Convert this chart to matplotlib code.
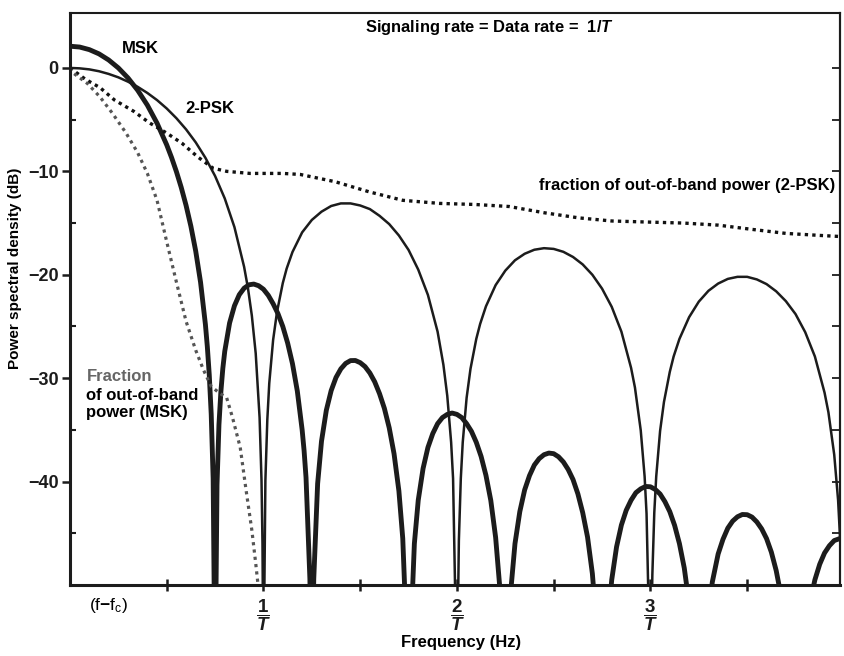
import numpy as np
import matplotlib
matplotlib.use('Agg')
import matplotlib.pyplot as plt

# values (frequency in units of 1/T, level in dB)
# -60 marks a spectral null (falls below the plotted range)
psk_f = [0, 0.05, 0.1, 0.15, 0.2, 0.25, 0.3, 0.35, 0.4, 0.45, 0.5, 0.55, 0.6, 0.65, 0.7, 0.75,
         0.8, 0.85, 0.9, 0.92, 0.94, 0.96, 0.98, 0.99, 0.995, 1.0,
         1.01, 1.02, 1.03, 1.05, 1.07, 1.1, 1.12, 1.15, 1.2, 1.25, 1.3, 1.35, 1.4, 1.45, 1.5,
         1.55, 1.6, 1.65, 1.7, 1.75, 1.8, 1.85, 1.9, 1.93, 1.95, 1.97, 1.98, 2.0,
         2.01, 2.02, 2.03, 2.05, 2.07, 2.1, 2.12, 2.15, 2.2, 2.25, 2.3, 2.35, 2.4, 2.45, 2.5,
         2.55, 2.6, 2.65, 2.7, 2.75, 2.8, 2.85, 2.9, 2.92, 2.95, 2.97, 2.98, 3.0,
         3.01, 3.02, 3.03, 3.05, 3.07, 3.1, 3.12, 3.15, 3.2, 3.25, 3.3, 3.35, 3.4, 3.45, 3.5,
         3.55, 3.6, 3.65, 3.7, 3.75, 3.8, 3.85, 3.9, 3.92, 3.95, 3.97, 3.98]
psk_db = [0, -0.04, -0.14, -0.32, -0.58, -0.91, -1.33, -1.83, -2.42, -3.11, -3.92, -4.86, -5.94, -7.2, -8.69, -10.45,
          -12.62, -15.39, -19.23, -21.3, -23.95, -27.6, -33.8, -39.9, -46.0, -60,
          -39.9, -34.0, -30.5, -26.3, -23.6, -20.8, -19.4, -17.8, -15.9, -14.7, -13.9, -13.35, -13.1, -13.1, -13.3,
          -13.65, -14.3, -15.1, -16.2, -17.6, -19.5, -21.95, -25.5, -28.7, -31.7, -36.2, -39.7, -60,
          -45.7, -39.7, -36.2, -31.9, -29.1, -26.2, -24.75, -23.05, -21.0, -19.6, -18.6, -17.97, -17.58, -17.43, -17.5,
          -17.78, -18.28, -19.0, -20.0, -21.34, -23.1, -25.5, -29.0, -30.9, -35.05, -39.5, -43.1, -60,
          -49.0, -43.0, -39.5, -35.1, -32.3, -29.4, -27.9, -26.2, -24.1, -22.6, -21.55, -20.85, -20.4, -20.2, -20.2,
          -20.45, -20.9, -21.6, -22.55, -23.8, -25.55, -27.9, -31.4, -33.3, -37.4, -41.8, -45.4]

msk_f = [0, 0.05, 0.1, 0.15, 0.2, 0.25, 0.3, 0.35, 0.4, 0.45, 0.5, 0.525, 0.55, 0.575, 0.6, 0.625,
         0.65, 0.675, 0.7, 0.71, 0.72, 0.73, 0.74, 0.75,
         0.76, 0.77, 0.78, 0.79, 0.8, 0.825, 0.85, 0.875, 0.9, 0.925, 0.95, 0.975, 1.0, 1.025,
         1.05, 1.075, 1.1, 1.125, 1.15, 1.175, 1.2, 1.21, 1.22, 1.24, 1.25,
         1.26, 1.28, 1.3, 1.325, 1.35, 1.375, 1.4, 1.425, 1.45, 1.475, 1.5, 1.525, 1.55, 1.575,
         1.6, 1.625, 1.65, 1.675, 1.7, 1.72, 1.75,
         1.78, 1.8, 1.825, 1.85, 1.875, 1.9, 1.925, 1.95, 1.975, 2.0, 2.025, 2.05, 2.075, 2.1,
         2.125, 2.15, 2.175, 2.2, 2.22, 2.25,
         2.28, 2.3, 2.325, 2.35, 2.375, 2.4, 2.425, 2.45, 2.475, 2.5, 2.525, 2.55, 2.575, 2.6,
         2.625, 2.65, 2.675, 2.7, 2.72, 2.75,
         2.8, 2.825, 2.85, 2.875, 2.9, 2.925, 2.95, 2.975, 3.0, 3.025, 3.05, 3.075, 3.1, 3.125,
         3.15, 3.175, 3.2, 3.25,
         3.32, 3.35, 3.375, 3.4, 3.425, 3.45, 3.475, 3.5, 3.525, 3.55, 3.575, 3.6, 3.625, 3.65,
         3.68, 3.75,
         3.82, 3.85, 3.875, 3.9, 3.925, 3.95, 3.975, 3.98]
msk_db = [2.1, 2.02, 1.77, 1.36, 0.77, 0.0, -0.97, -2.16, -3.6, -5.34, -7.44, -8.66, -10.02, -11.55, -13.29, -15.31,
          -17.72, -20.73, -24.8, -26.97, -29.7, -33.47, -39.7, -60,
          -40.3, -34.5, -31.3, -29.06, -27.4, -24.66, -23.0, -21.93, -21.3, -20.97, -20.9, -21.06, -21.4, -21.99,
          -22.8, -23.76, -25.0, -26.6, -28.6, -31.24, -35.0, -37.0, -39.6, -49.4, -60,
          -49.4, -40.2, -36.1, -33.1, -31.2, -29.93, -29.1, -28.57, -28.3, -28.29, -28.5, -28.88, -29.5, -30.35,
          -31.5, -32.92, -34.8, -37.31, -40.9, -45.5, -60,
          -46.0, -41.8, -38.73, -36.7, -35.36, -34.4, -33.81, -33.5, -33.37, -33.5, -33.81, -34.4, -35.14, -36.2,
          -37.57, -39.4, -41.82, -45.4, -49.9, -60,
          -50.2, -46.0, -42.9, -40.8, -39.42, -38.4, -37.78, -37.4, -37.24, -37.3, -37.6, -38.1, -38.83, -39.8,
          -41.18, -43.0, -45.36, -48.9, -53.5, -60,
          -49.5, -46.31, -44.2, -42.77, -41.8, -41.07, -40.7, -40.47, -40.5, -40.76, -41.2, -41.94, -42.9, -44.23,
          -46.0, -48.36, -51.8, -60,
          -49.7, -47.0, -45.58, -44.5, -43.82, -43.4, -43.18, -43.2, -43.43, -43.9, -44.57, -45.5, -46.82, -48.6,
          -51.5, -60,
          -52.1, -49.5, -47.99, -46.9, -46.2, -45.7, -45.53, -45.5]

frac_psk_f = [0, 0.08, 0.155, 0.23, 0.33, 0.41, 0.5, 0.58, 0.66, 0.74, 0.81, 0.93, 1.1, 1.19,
              1.37, 1.55, 1.72, 1.91, 2.09, 2.27, 2.45, 2.63, 2.8, 2.98, 3.17, 3.35, 3.52, 3.7, 3.88, 3.98]
frac_psk_db = [0, -1.1, -1.9, -3.1, -4.2, -5.3, -6.3, -7.3, -8.6, -9.7, -10.0, -10.2, -10.2, -10.3,
               -11.0, -12.0, -12.8, -13.1, -13.2, -13.4, -14.0, -14.5, -14.8, -14.9, -15.0, -15.2, -15.6, -16.0, -16.2, -16.3]

frac_msk_f = [0, 0.01, 0.09, 0.155, 0.22, 0.29, 0.35, 0.40, 0.45, 0.5, 0.55, 0.6, 0.65, 0.69,
              0.73, 0.77, 0.81, 0.84, 0.88, 0.91, 0.94, 0.96, 0.975]
frac_msk_db = [0, -0.4, -1.5, -2.8, -4.4, -6.3, -8.2, -10.2, -12.8, -16.8, -20.7, -24.5, -27.3, -29.2,
               -30.8, -31.4, -31.9, -33.8, -36.7, -40.8, -44.7, -47.9, -50.5]

yticks = [0, -10, -20, -30, -40]
ytick_labels = ['0', '\u221210', '\u221220', '\u221230', '\u221240']
xticks = [1, 2, 3]
xtick_labels = [r'$\dfrac{1}{T}$', r'$\dfrac{2}{T}$', r'$\dfrac{3}{T}$']

plt.rcParams['font.family'] = ['Liberation Sans', 'DejaVu Sans']
plt.rcParams['font.weight'] = 'bold'
plt.rcParams['mathtext.fontset'] = 'custom'
plt.rcParams['mathtext.rm'] = 'Liberation Sans:bold'
plt.rcParams['mathtext.it'] = 'Liberation Sans:italic:bold'
plt.rcParams['mathtext.bf'] = 'Liberation Sans:bold'

ink = '#1c1c1c'
fig = plt.figure(figsize=(8.44, 6.56), dpi=100)
ax = fig.add_axes([0.0829, 0.1082, 0.9124, 0.8718])

ax.plot(psk_f, psk_db, color=ink, lw=1.8, solid_joinstyle='round')
ax.plot(msk_f, msk_db, color=ink, lw=3.5, solid_joinstyle='round')
ax.plot(frac_psk_f, frac_psk_db, color='#111111', lw=2.4, linestyle=(0, (1, 1.25)))
ax.plot(frac_msk_f, frac_msk_db, color='#555555', lw=2.3, linestyle=(0, (1, 1.3)))

ax.set_xlim(0, 3.98)
ax.set_ylim(-50, 5.3)

for s in ['left', 'bottom']:
    ax.spines[s].set_linewidth(2.2)
for s in ['top', 'right']:
    ax.spines[s].set_linewidth(1.5)
for s in ax.spines.values():
    s.set_color(ink)

ax.set_yticks(yticks, ytick_labels)
ax.set_yticks(np.arange(-45, 5, 10), minor=True)
ax.tick_params(axis='y', which='major', direction='out', length=6, width=1.8,
               labelsize=13, pad=2, colors=ink)
ax.tick_params(axis='y', which='minor', direction='in', length=4, width=1.5, colors=ink)

ax.set_xticks(xticks, xtick_labels)
ax.set_xticks([0.5, 1.5, 2.5, 3.5], minor=True)
ax.tick_params(axis='x', which='both', direction='inout', length=9, width=1.8,
               labelsize=13.5, pad=4, colors=ink)

sec = ax.secondary_yaxis('right')
sec.set_yticks(np.arange(-45, 1, 5))
sec.tick_params(direction='in', length=6, width=1.3, labelright=False, colors=ink)
sec.spines['right'].set_linewidth(1.5)

ax.set_xlabel('Frequency (Hz)', fontsize=12, fontweight='bold')
ax.xaxis.set_label_coords(0.508, -0.087)
ax.set_ylabel('Power spectral density (dB)', fontsize=11, fontweight='bold')
ax.yaxis.set_label_coords(-0.062, 0.554)

ax.text(0.10, -52.0, r'(f$-$f$_\mathregular{c}$)', fontsize=12.5, fontweight='normal',
        ha='left', va='center', clip_on=False)
ax.text(1.526, 3.87, r'Signaling rate = Data rate =  1/$T$', fontsize=11.9,
        ha='left', va='center')
ax.text(0.27, 1.84, 'MSK', fontsize=12, ha='left', va='center')
ax.text(0.595, -3.97, '2-PSK', fontsize=12, ha='left', va='center')
ax.text(2.426, -11.33, 'fraction of out-of-band power (2-PSK)', fontsize=12,
        ha='left', va='center')
ax.text(0.088, -29.8, 'Fraction', fontsize=12, color='#666666', ha='left', va='center')
ax.text(0.083, -32.5, 'of out-of-band\npower (MSK)', fontsize=12, ha='left',
        va='center', linespacing=1.2)

fig.savefig('out.png', dpi=100)
